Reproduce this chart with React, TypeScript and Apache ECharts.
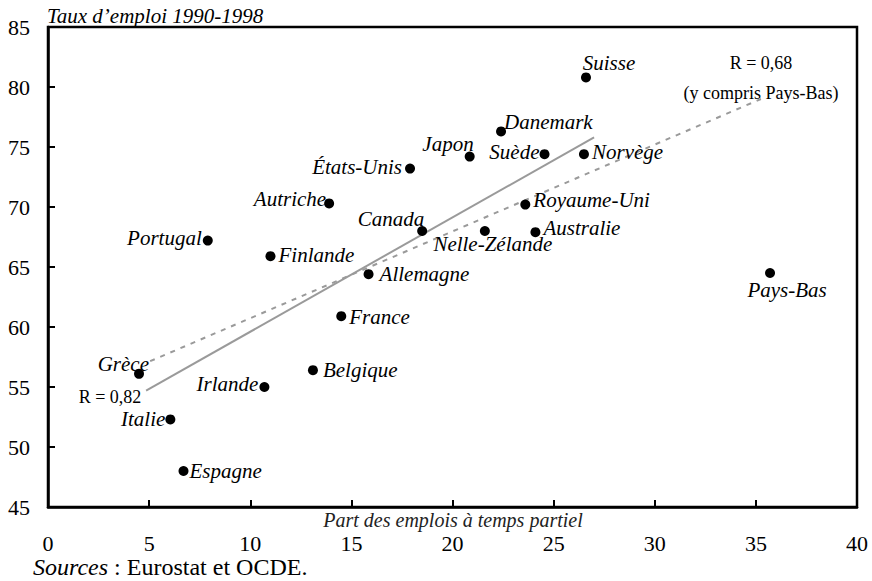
import React, { useEffect, useRef } from "react";
import * as echarts from "echarts";

// ---- data ----
const countries = [
  "Grèce", "Portugal", "Autriche", "Finlande", "France", "Belgique", "Irlande",
  "Italie", "Espagne", "États-Unis", "Japon", "Danemark", "Suède", "Norvège",
  "Suisse", "Canada", "Nelle-Zélande", "Royaume-Uni", "Australie", "Allemagne", "Pays-Bas",
];
const partTimeShare = [
  4.5, 7.9, 13.9, 11.0, 14.5, 13.1, 10.7,
  6.05, 6.7, 17.9, 20.85, 22.4, 24.55, 26.5,
  26.6, 18.5, 21.6, 23.6, 24.1, 15.85, 35.7,
];
const employmentRate = [
  56.1, 67.2, 70.3, 65.9, 60.9, 56.4, 55.0,
  52.3, 48.0, 73.2, 74.2, 76.3, 74.4, 74.4,
  80.8, 68.0, 68.0, 70.2, 67.9, 64.4, 64.5,
];
// regression lines (endpoints)
const fitWithoutNL = [[4.85, 54.7], [27.0, 75.8]];
const fitWithNL = [[5.05, 57.15], [35.25, 79.0]];

const xMin = 0, xMax = 40, xStep = 5;
const yMin = 45, yMax = 85, yStep = 5;

const yTitle = "Taux d\u2019emploi 1990-1998";
const xTitle = "Part des emplois \u00e0 temps partiel";
const rWithout = "R = 0,82";
const rWith = ["R = 0,68", "(y compris Pays-Bas)"];

// label placement relative to the dot: [align, dx, dy]
const labelPlacement: Record<string, [string, number, number]> = {
  "Grèce": ["right", 10, -10],
  "Portugal": ["right", -6, -3],
  "Autriche": ["right", -3, -4],
  "Finlande": ["left", 8, -1],
  "France": ["left", 8, 1],
  "Belgique": ["left", 10, 0],
  "Irlande": ["right", -6, -3],
  "Italie": ["right", -5, 0],
  "Espagne": ["left", 6, 0],
  "États-Unis": ["right", -8, -2],
  "Japon": ["right", 4, -13],
  "Danemark": ["left", 3, -9],
  "Suède": ["right", -5, -2],
  "Norvège": ["left", 8, -2],
  "Suisse": ["center", 23, -14],
  "Canada": ["right", 2, -12],
  "Nelle-Zélande": ["center", 8, 13],
  "Royaume-Uni": ["left", 8, -5],
  "Australie": ["left", 8, -4],
  "Allemagne": ["left", 11, 0],
  "Pays-Bas": ["center", 17, 17],
};

const SERIF = "Liberation Serif";
const LABEL_FONT = "italic 21px 'Liberation Serif'";

export default function App() {
  const ref = useRef<HTMLDivElement>(null);
  useEffect(() => {
    if (!ref.current) return;
    const chart = echarts.init(ref.current, undefined, { renderer: "svg" });
    const points = countries.map((name, i) => ({ name, value: [partTimeShare[i], employmentRate[i]] }));
    chart.setOption({
      animation: false,
      textStyle: { fontFamily: SERIF, color: "#000" },
      grid: {
        left: 48, right: 15, top: 27, bottom: 74,
        show: true, borderColor: "#000", borderWidth: 2.5, backgroundColor: "transparent",
      },
      xAxis: {
        type: "value", min: xMin, max: xMax, interval: xStep,
        axisLine: { show: true, lineStyle: { color: "#000", width: 2.5 } },
        axisTick: { show: true, inside: true, length: 7, lineStyle: { color: "#000", width: 2 } },
        axisLabel: { color: "#000", fontSize: 22, fontFamily: SERIF, margin: 25 },
        splitLine: { show: false },
      },
      yAxis: {
        type: "value", min: yMin, max: yMax, interval: yStep,
        axisLine: { show: true, lineStyle: { color: "#000", width: 2.5 } },
        axisTick: { show: true, inside: true, length: 7, lineStyle: { color: "#000", width: 2 } },
        axisLabel: { color: "#000", fontSize: 22, fontFamily: SERIF, margin: 18 },
        splitLine: { show: false },
      },
      series: [
        {
          type: "line", data: fitWithoutNL, symbol: "none", silent: true,
          lineStyle: { color: "#9a9a9a", width: 2 }, z: 1,
        },
        {
          type: "line", data: fitWithNL, symbol: "none", silent: true,
          lineStyle: { color: "#9a9a9a", width: 2, type: [5, 6] }, z: 1,
        },
        {
          type: "scatter", data: points, symbol: "circle", symbolSize: 10,
          itemStyle: { color: "#000", opacity: 1 }, z: 3, label: { show: false },
        },
        {
          type: "custom", data: points, z: 4, silent: true,
          encode: { x: 0, y: 1 },
          renderItem: (params: any, api: any) => {
            const i = params.dataIndex;
            const name = countries[i];
            const [align, dx, dy] = labelPlacement[name];
            const p = api.coord([api.value(0), api.value(1)]);
            return {
              type: "text",
              x: p[0] + dx,
              y: p[1] + dy,
              style: {
                text: name, fill: "#000", font: LABEL_FONT,
                textAlign: align, textVerticalAlign: "middle",
              },
            };
          },
        },
      ],
      graphic: [
        {
          type: "text", x: 47, y: 16,
          style: { text: yTitle, fill: "#000", fontSize: 21, fontFamily: SERIF, fontStyle: "italic", textAlign: "left", textVerticalAlign: "middle" },
        },
        {
          type: "text", x: 453, y: 520,
          style: { text: xTitle, fill: "#222", fontSize: 20, fontFamily: SERIF, fontStyle: "italic", textAlign: "center", textVerticalAlign: "middle" },
        },
        {
          type: "text", x: 33, y: 567,
          style: {
            text: "{i|Sources} : Eurostat et OCDE.",
            fill: "#000", fontSize: 24, fontFamily: SERIF, textAlign: "left", textVerticalAlign: "middle",
            rich: { i: { fontStyle: "italic", fontSize: 24, fontFamily: SERIF, fill: "#000" } },
          },
        },
        {
          type: "text", x: 110, y: 397,
          style: { text: rWithout, fill: "#000", fontSize: 18, fontFamily: SERIF, textAlign: "center", textVerticalAlign: "middle" },
        },
        {
          type: "text", x: 761, y: 63,
          style: { text: rWith[0], fill: "#000", fontSize: 18, fontFamily: SERIF, textAlign: "center", textVerticalAlign: "middle" },
        },
        {
          type: "text", x: 761, y: 93,
          style: { text: rWith[1], fill: "#000", fontSize: 18, fontFamily: SERIF, textAlign: "center", textVerticalAlign: "middle" },
        },
      ],
    });
    return () => chart.dispose();
  }, []);
  return (
    <div
      ref={ref}
      style={{ position: "fixed", left: 0, top: 0, width: 872, height: 581, background: "#fff" }}
    />
  );
}
